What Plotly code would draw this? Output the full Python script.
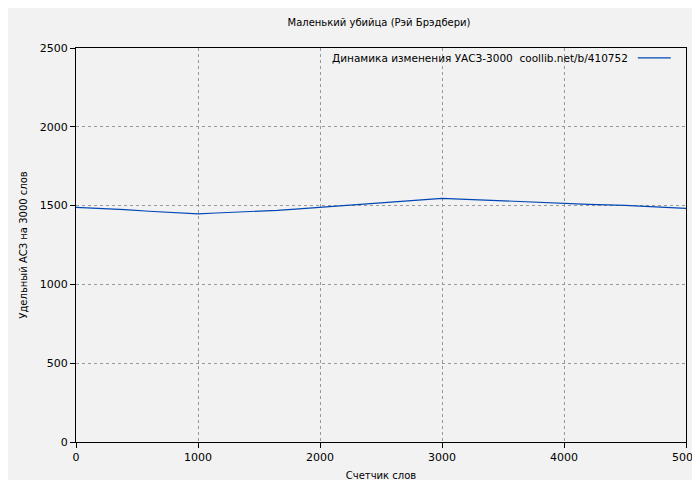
import plotly.graph_objects as go

words = [0, 200, 400, 600, 800, 1000, 1150, 1300, 1500, 1650, 1800, 2000, 2100, 2200,
         2400, 2500, 2650, 2800, 2900, 3000, 3200, 3400, 3600, 3800, 4000, 4200, 4500,
         4800, 5000]
asz = [1489, 1483, 1474, 1464, 1457, 1447, 1453, 1457, 1464, 1470, 1478, 1489, 1495, 1504,
       1512, 1518, 1525, 1534, 1540, 1546, 1540, 1534, 1527, 1518, 1512, 1508, 1502,
       1491, 1483]
legend_text = "Динамика изменения УАСЗ-3000  coollib.net/b/410752"

font = "DejaVu Sans, sans-serif"
blue = "#0046b4"

fig = go.Figure(go.Scatter(x=words, y=asz, mode="lines",
                           line=dict(color=blue, width=1.2), showlegend=False))

axis = dict(showline=True, linecolor="black", linewidth=1, mirror=True, ticks="outside",
            ticklen=5, tickcolor="black", showgrid=True, gridcolor="#999999",
            griddash="dot", gridwidth=1, zeroline=False, automargin=False,
            tickfont=dict(size=11, color="black"))

fig.update_layout(
    width=700, height=480,
    paper_bgcolor="#f2f2f2", plot_bgcolor="#f2f2f2",
    margin=dict(l=68, r=22, t=40, b=46, autoexpand=False),
    font=dict(family=font, size=10, color="black"),
    title=dict(text="Маленький убийца (Рэй Брэдбери)", x=0.53, y=0.97,
               xanchor="center", yanchor="middle", font=dict(size=10)),
    xaxis=dict(axis, range=[0, 5000], dtick=1000,
               title=dict(text="Счетчик слов", standoff=8, font=dict(size=10))),
    yaxis=dict(axis, range=[0, 2500], dtick=500,
               title=dict(text="Удельный АСЗ на 3000 слов", standoff=10, font=dict(size=10))),
    annotations=[dict(x=0.908, y=0.975, xref="paper", yref="paper", text=legend_text,
                      showarrow=False, xanchor="right", yanchor="middle",
                      font=dict(size=10.5))],
    shapes=[dict(type="line", xref="paper", yref="paper", x0=0.921, x1=0.975,
                 y0=0.975, y1=0.975, line=dict(color=blue, width=1.2))],
)

fig.write_html("out.html")
